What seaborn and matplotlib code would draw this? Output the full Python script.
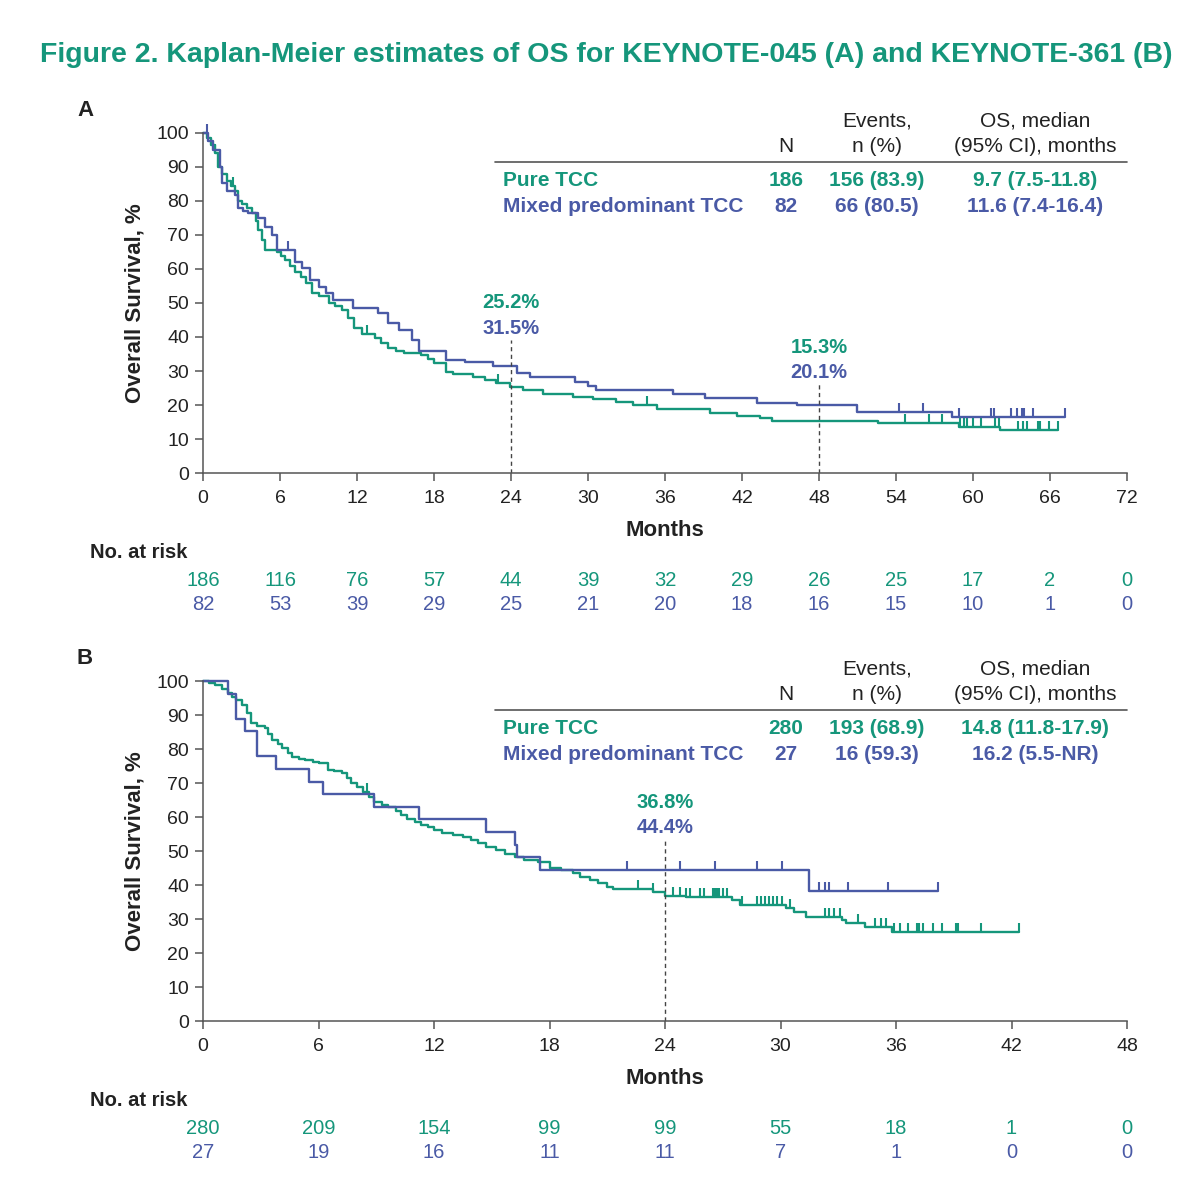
import numpy as np
import pandas as pd
import matplotlib
matplotlib.use("Agg")
import matplotlib.pyplot as plt
import matplotlib.transforms as mtransforms
import seaborn as sns

sns.set_style("ticks")
plt.rcParams['font.family'] = ['Liberation Sans', 'DejaVu Sans']

TEAL = "#15967b"
BLUE = "#4a5aa6"
GREY = "#555555"

# ---------------- Panel A (KEYNOTE-045) ----------------
a_pure_t = [0, 0.3, 0.6, 0.9, 1.2, 1.5, 1.9, 2.2, 2.5, 2.7, 3.0, 3.4, 3.8, 4.1, 4.3, 4.6, 4.8,
            5.8, 6.1, 6.4, 6.8, 7.2, 7.6, 8.0, 8.5, 9.0, 9.8, 10.3, 10.8, 11.3, 11.8, 12.4,
            13.4, 13.9, 14.4, 15.0, 15.7, 17.0, 17.5, 18.0, 18.9, 19.5, 21.0, 22.0, 22.8,
            23.9, 24.9, 26.5, 28.8, 30.4, 32.2, 33.5, 35.4, 39.5, 41.6, 43.4, 44.3, 52.6,
            58.9, 62.1, 66.6]
a_pure_s = [100, 98.5, 96.5, 94, 90, 88, 86, 84.5, 83, 80, 79, 78, 76.5, 74, 71.5, 68.5, 65.6,
            65, 63.8, 62.6, 61, 59, 57.5, 56, 53, 52, 50, 49, 48, 45.5, 42.6, 41,
            39.7, 38.3, 36.8, 36, 35.3, 34.7, 33.5, 32.4, 29.7, 29, 28.2, 27.3, 26.5,
            25.2, 24.4, 23.2, 22.4, 21.7, 21.0, 20.0, 18.8, 17.6, 16.8, 16.2, 15.3, 14.6,
            13.6, 12.6, 12.6]
a_pure_cens = [0.9, 2.3, 12.8, 23.0, 34.6, 54.7, 56.6, 57.6, 59.0, 59.3, 59.5, 60.0, 60.6,
               61.7, 62.0, 63.5, 63.9, 64.2, 65.1, 65.2, 65.9, 66.6]

a_mixed_t = [0, 0.4, 0.8, 1.3, 1.5, 1.9, 2.5, 2.7, 3.1, 3.5, 4.3, 4.8, 5.4, 5.8, 7.2, 7.7,
             8.3, 9.0, 9.6, 10.1, 11.7, 13.6, 14.4, 15.3, 16.3, 16.8, 18.9, 20.4, 22.6,
             24.5, 25.5, 29.0, 30.0, 30.6, 36.6, 39.1, 43.2, 46.3, 51.0, 58.4, 67.2]
a_mixed_s = [100, 97.6, 95.1, 90, 85.4, 83, 81.7, 78, 77, 76.5, 75, 72.4, 70, 65.6, 62, 60.3,
             56.8, 54.7, 52.9, 50.9, 48.5, 47, 44, 42, 39, 36, 33.2, 32.5, 31.5,
             29.4, 28.2, 26.8, 25.6, 24.4, 23.2, 22, 20.6, 20.1, 17.9, 16.4, 16.4]
a_mixed_cens = [0.3, 6.6, 54.2, 56.1, 58.9, 61.4, 61.6, 63.0, 63.4, 63.8, 64.0, 64.7, 67.2]

a_risk_pure = [186, 116, 76, 57, 44, 39, 32, 29, 26, 25, 17, 2, 0]
a_risk_mixed = [82, 53, 39, 29, 25, 21, 20, 18, 16, 15, 10, 1, 0]
a_xticks = [0, 6, 12, 18, 24, 30, 36, 42, 48, 54, 60, 66, 72]

# ---------------- Panel B (KEYNOTE-361) ----------------
b_pure_t = [0, 0.3, 0.6, 1.0, 1.3, 1.5, 1.7, 2.0, 2.3, 2.5, 2.8, 3.2, 3.4, 3.6, 3.9, 4.1, 4.4,
            4.6, 5.0, 5.3, 5.7, 6.0, 6.5, 6.8, 7.2, 7.5, 7.7, 8.0, 8.3, 8.6, 8.9, 9.3, 9.6,
            10.0, 10.3, 10.6, 11.0, 11.3, 11.7, 12.0, 12.4, 13.0, 13.5, 13.9, 14.3, 14.7,
            15.2, 15.7, 16.2, 16.7, 17.4, 18.0, 18.6, 19.2, 19.6, 20.1, 20.5, 21.0, 21.3,
            23.4, 24.0, 25.1, 27.5, 27.9, 30.3, 30.7, 31.3, 33.2, 33.4, 34.4, 35.8, 42.4]
b_pure_s = [100, 99.5, 98.8, 97.6, 96.5, 95.4, 94.4, 92.9, 90.6, 87.6, 86.9, 86.2, 84.4, 82.6,
            81.4, 80.3, 78.9, 77.6, 77.2, 76.8, 76.3, 75.9, 73.8, 73.4, 72.9, 71.4, 70, 68.7,
            67.4, 65.9, 64.4, 63.6, 62.9, 61.7, 60.6, 59.5, 58.5, 57.7, 57, 56.1, 55.3, 54.7,
            54.1, 53.2, 52.4, 51.3, 50.3, 49.2, 48.2, 47.4, 46.8, 45, 44.3, 43.5, 42.5, 41.5,
            40.5, 39.5, 38.8, 38.0, 36.8, 36.5, 35.6, 34.1, 33.2, 32.1, 30.6, 29.7, 28.8,
            27.6, 26.2, 26.2]
b_pure_cens = [8.5, 22.6, 23.4, 24.4, 24.8, 25.1, 25.3, 25.8, 26.0, 26.5, 26.6, 26.7, 26.8,
               27.0, 27.2, 28.0, 28.8, 29.0, 29.2, 29.4, 29.6, 29.8, 30.1, 30.5, 32.3, 32.5,
               32.8, 33.1, 34.0, 34.9, 35.2, 35.5, 35.9, 36.2, 36.6, 37.1, 37.2, 37.4, 37.9,
               38.4, 39.1, 39.2, 40.4, 42.4]

b_mixed_t = [0, 1.3, 1.7, 2.2, 2.8, 3.8, 5.5, 6.25, 8.9, 11.2, 14.7, 16.2, 16.3, 17.5, 31.5, 38.2]
b_mixed_s = [100, 96.3, 88.9, 85.2, 77.8, 74.1, 70.4, 66.7, 63.0, 59.3, 55.6, 51.9, 48.1,
             44.4, 38.1, 38.1]
b_mixed_cens = [22.0, 24.8, 26.6, 28.8, 30.1, 32.0, 32.3, 32.5, 33.5, 35.6, 38.2]

b_risk_pure = [280, 209, 154, 99, 99, 55, 18, 1, 0]
b_risk_mixed = [27, 19, 16, 11, 11, 7, 1, 0, 0]
b_xticks = [0, 6, 12, 18, 24, 30, 36, 42, 48]

yticks = list(range(0, 101, 10))

# table text
groups = ["Pure TCC", "Mixed predominant TCC"]
a_n = ["186", "82"]
a_events = ["156 (83.9)", "66 (80.5)"]
a_median = ["9.7 (7.5-11.8)", "11.6 (7.4-16.4)"]
b_n = ["280", "27"]
b_events = ["193 (68.9)", "16 (59.3)"]
b_median = ["14.8 (11.8-17.9)", "16.2 (5.5-NR)"]

W, H = 1200, 1202
fig = plt.figure(figsize=(W / 100, H / 100), dpi=100)


def fx(x):
    return x / W


def fy(y):
    return 1 - y / H


axA = fig.add_axes([fx(203), fy(473), 924 / W, 340 / H])
axB = fig.add_axes([fx(203), fy(1021), 924 / W, 340 / H])


def step_val(t, s, x):
    idx = np.searchsorted(np.asarray(t), np.asarray(x), side='right') - 1
    return np.asarray(s)[idx]


def draw_curve(ax, t, s, cens, color):
    df = pd.DataFrame({'t': t, 's': s})
    sns.lineplot(data=df, x='t', y='s', ax=ax, color=color, drawstyle='steps-post',
                 lw=1.7, estimator=None, clip_on=False)
    cy = step_val(t, s, cens)
    ax.plot(cens, cy, ls='none', marker=[(0, 0), (0, 1)], ms=13, mec=color, mfc=color,
            mew=1.5, clip_on=False)


def style_axis(ax, xmax, xticks):
    ax.set_xlim(0, xmax)
    ax.set_ylim(0, 100)
    ax.set_xticks(xticks)
    ax.set_yticks(yticks)
    for sp in ['top', 'right']:
        ax.spines[sp].set_visible(False)
    for sp in ['left', 'bottom']:
        ax.spines[sp].set_color(GREY)
        ax.spines[sp].set_linewidth(1.1)
    ax.tick_params(direction='out', length=6, width=1.1, color=GREY, labelsize=14,
                   labelcolor='#222222', pad=4)
    ax.tick_params(axis='x', pad=6.5)
    ax.set_xlabel('Months', fontsize=16, fontweight='bold', color='#222222', labelpad=9)
    ax.set_ylabel('Overall Survival, %', fontsize=16, fontweight='bold', color='#222222',
                  labelpad=8)


def marks(ax, tops):
    for x, top in tops.items():
        ax.plot([x, x], [0, top], ls=(0, (3, 2.5)), color='#444444', lw=1)


def annot(ax, x, t1, t2, y1, y2):
    ax.text(x, y1, t1, color=TEAL, fontsize=14.5, fontweight='bold', ha='center', va='center')
    ax.text(x, y2, t2, color=BLUE, fontsize=14.5, fontweight='bold', ha='center', va='center')


def table(y0, n, ev, med):
    fs = 15
    fig.text(fx(786), fy(y0 + 25), "N", ha='center', va='center', fontsize=fs, color='#222222')
    fig.text(fx(877), fy(y0), "Events,", ha='center', va='center', fontsize=fs, color='#222222')
    fig.text(fx(877), fy(y0 + 25), "n (%)", ha='center', va='center', fontsize=fs, color='#222222')
    fig.text(fx(1035), fy(y0), "OS, median", ha='center', va='center', fontsize=fs, color='#222222')
    fig.text(fx(1035), fy(y0 + 25), "(95% CI), months", ha='center', va='center', fontsize=fs,
             color='#222222')
    fig.add_artist(plt.Line2D([fx(495), fx(1127)], [fy(y0 + 41), fy(y0 + 41)], color='#555555',
                              lw=1.2))
    for i, (g, c) in enumerate(zip(groups, [TEAL, BLUE])):
        yy = fy(y0 + 59 + 26 * i)
        fig.text(fx(503), yy, g, ha='left', va='center', fontsize=fs, fontweight='bold', color=c)
        fig.text(fx(786), yy, n[i], ha='center', va='center', fontsize=fs, fontweight='bold', color=c)
        fig.text(fx(877), yy, ev[i], ha='center', va='center', fontsize=fs, fontweight='bold', color=c)
        fig.text(fx(1035), yy, med[i], ha='center', va='center', fontsize=fs, fontweight='bold',
                 color=c)


def risk(ax, xticks, rp, rm, y_head):
    fig.text(fx(90), fy(y_head), "No. at risk", ha='left', va='center', fontsize=14.5,
             fontweight='bold', color='#222222')
    tr = mtransforms.blended_transform_factory(ax.transData, fig.transFigure)
    for x, a, b in zip(xticks, rp, rm):
        ax.text(x, fy(y_head + 27), str(a), transform=tr, ha='center', va='center', fontsize=14.5,
                color=TEAL)
        ax.text(x, fy(y_head + 52), str(b), transform=tr, ha='center', va='center', fontsize=14.5,
                color=BLUE)


# Panel A
draw_curve(axA, a_pure_t, a_pure_s, a_pure_cens, TEAL)
draw_curve(axA, a_mixed_t, a_mixed_s, a_mixed_cens, BLUE)
style_axis(axA, 72, a_xticks)
marks(axA, {24: 39, 48: 26.5})
annot(axA, 24, "25.2%", "31.5%", 50.0, 42.6)
annot(axA, 48, "15.3%", "20.1%", 37.0, 29.7)
table(121, a_n, a_events, a_median)
risk(axA, a_xticks, a_risk_pure, a_risk_mixed, 553)

# Panel B
draw_curve(axB, b_pure_t, b_pure_s, b_pure_cens, TEAL)
draw_curve(axB, b_mixed_t, b_mixed_s, b_mixed_cens, BLUE)
style_axis(axB, 48, b_xticks)
marks(axB, {24: 53})
annot(axB, 24, "36.8%", "44.4%", 64.4, 57.0)
table(669, b_n, b_events, b_median)
risk(axB, b_xticks, b_risk_pure, b_risk_mixed, 1101)

# Panel letters and title
fig.text(fx(85), fy(110), "A", ha='center', va='center', fontsize=16, fontweight='bold',
         color='#222222')
fig.text(fx(85), fy(658), "B", ha='center', va='center', fontsize=16, fontweight='bold',
         color='#222222')
fig.text(fx(606), fy(55), "Figure 2. Kaplan-Meier estimates of OS for KEYNOTE-045 (A) and KEYNOTE-361 (B)",
         ha='center', va='center', fontsize=20.5, fontweight='bold', color=TEAL)

fig.savefig("out.png", dpi=100, facecolor='white')
